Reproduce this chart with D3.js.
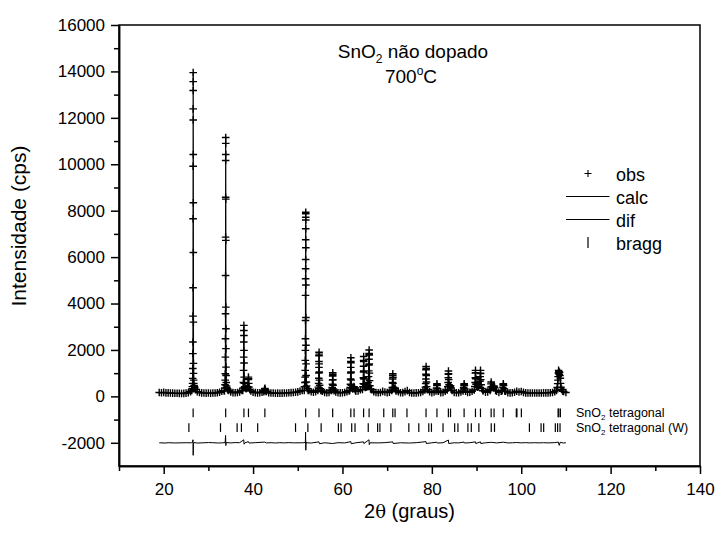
<!DOCTYPE html>
<html>
<head>
<meta charset="utf-8">
<script src="https://cdn.jsdelivr.net/npm/d3@7"></script>
<style>
  body { margin: 0; background: #fff; }
  svg text { font-family: "Liberation Sans", Arial, sans-serif; fill: #000; }
</style>
</head>
<body>
<div id="viewportContainer"></div>
<script>
/* --- ビューポート --- */
const viewport = { width: 715, height: 533 };
const plot = { left: 119, right: 700, top: 25, bottom: 466 };

/* --- 軸 --- */
const xDomain = [10, 140];
const yDomain = [-3000, 16000];
const xTicks = [20, 40, 60, 80, 100, 120, 140];
const xMinorTicks = [10, 30, 50, 70, 90, 110, 130];
const yTicks = [-2000, 0, 2000, 4000, 6000, 8000, 10000, 12000, 14000, 16000];
const yMinorTicks = [-1000, 1000, 3000, 5000, 7000, 9000, 11000, 13000, 15000];

/* --- obs: バックグラウンド (19.0度から0.5度刻み) --- */
const obsStart = 19.0;
const obsStep = 0.5;
const obsBackground = [
  165, 158, 170, 152, 150, 142, 140, 135, 132, 128,
  125, 130, 138, 155, 200, 420, 290, 205, 168, 150,
  145, 138, 142, 136, 144, 148, 158, 178, 218, 240,
  600, 250, 190, 162, 158, 165, 188, 250, 520, 330,
  600, 230, 180, 160, 152, 155, 176, 290, 210, 158,
  148, 142, 136, 140, 135, 138, 142, 148, 155, 162,
  168, 178, 192, 228, 250, 450, 900, 260, 198, 178,
  196, 250, 500, 228, 168, 158, 172, 250, 560, 190,
  158, 152, 156, 168, 196, 230, 600, 330, 218, 236,
  286, 420, 520, 420, 600, 290, 198, 168, 158, 168,
  215, 188, 162, 176, 266, 500, 230, 198, 158, 162,
  206, 248, 168, 148, 145, 152, 158, 168, 208, 390,
  288, 198, 162, 188, 336, 228, 162, 172, 226, 410,
  440, 248, 172, 158, 158, 188, 306, 248, 172, 178,
  218, 400, 440, 390, 800, 248, 178, 188, 306, 390,
  370, 228, 172, 218, 390, 218, 162, 152, 158, 178,
  218, 188, 208, 172, 152, 148, 145, 142, 148, 145,
  142, 148, 152, 150, 152, 158, 168, 202, 288, 700,
  300, 208, 168
];

/* --- obs: ピーク部分 [2θ, I] --- */
const obsPeaks = [
  // (110)
  [[26.30, 260], [26.36, 330], [26.42, 420], [26.46, 560], [26.49, 775], [26.51, 1200],
   [26.53, 1840], [26.545, 2340], [26.555, 3457], [26.565, 4680], [26.575, 7650],
   [26.585, 9915], [26.59, 12385], [26.595, 13560], [26.60, 13950], [26.605, 13175],
   [26.61, 11910], [26.62, 10420], [26.63, 8340], [26.64, 6200], [26.65, 3200],
   [26.665, 1420], [26.68, 990], [26.70, 700], [26.74, 560], [26.80, 470], [26.88, 420],
   [26.96, 360], [27.10, 290]],
  // (101)
  [[33.60, 230], [33.66, 360], [33.72, 500], [33.76, 700], [33.79, 975], [33.81, 1690],
   [33.825, 2485], [33.835, 3560], [33.845, 5210], [33.855, 6860], [33.862, 8580],
   [33.868, 10160], [33.873, 10900], [33.878, 11150], [33.883, 10420], [33.89, 8500],
   [33.90, 6720], [33.91, 3845], [33.92, 2915], [33.93, 2055], [33.945, 1260], [33.96, 900],
   [34.00, 600], [34.06, 450], [34.14, 380], [34.24, 320], [34.40, 270]],
  // (200) (111)
  [[37.70, 260], [37.78, 360], [37.84, 600], [37.88, 1120], [37.905, 1690], [37.92, 2340],
   [37.935, 2840], [37.945, 3060], [37.955, 2625], [37.965, 1980], [37.98, 1435],
   [38.00, 830], [38.05, 560], [38.12, 420], [38.25, 360], [38.45, 330], [38.65, 360],
   [38.80, 420], [38.88, 560], [38.93, 720], [38.96, 830], [38.99, 760], [39.03, 560],
   [39.10, 400], [39.25, 300]],
  // (210)
  [[42.40, 200], [42.52, 260], [42.60, 330], [42.66, 345], [42.74, 280], [42.88, 210]],
  // (211)
  [[51.45, 250], [51.53, 420], [51.60, 600], [51.64, 830], [51.67, 1120], [51.69, 1550],
   [51.705, 1980], [51.72, 2485], [51.73, 3270], [51.74, 4350], [51.75, 5070],
   [51.757, 5500], [51.763, 5900], [51.768, 6745], [51.773, 7220], [51.777, 7720],
   [51.782, 7865], [51.787, 7935], [51.793, 7600], [51.80, 6400], [51.81, 4800],
   [51.82, 3400], [51.835, 2200], [51.85, 1400], [51.87, 900], [51.91, 620], [51.98, 450],
   [52.10, 340], [52.30, 260]],
  // (220)
  [[54.50, 260], [54.60, 400], [54.66, 560], [54.70, 780], [54.72, 1000], [54.735, 1250],
   [54.745, 1500], [54.755, 1750], [54.765, 1900], [54.775, 1820], [54.79, 1400],
   [54.81, 1050], [54.84, 700], [54.90, 480], [55.00, 330], [55.15, 250]],
  // (002)
  [[57.60, 250], [57.70, 380], [57.76, 520], [57.79, 700], [57.81, 880], [57.825, 1020],
   [57.84, 940], [57.86, 720], [57.90, 480], [57.98, 320], [58.10, 240]],
  // (310) (221)
  [[61.62, 260], [61.72, 380], [61.78, 520], [61.82, 750], [61.845, 1000], [61.86, 1250],
   [61.875, 1500], [61.885, 1665], [61.90, 1450], [61.92, 1050], [61.95, 700], [62.00, 480],
   [62.10, 360], [62.30, 320], [62.48, 350], [62.58, 420], [62.66, 380], [62.80, 290]],
  // (112) (301)
  [[64.48, 300], [64.58, 420], [64.65, 550], [64.69, 800], [64.71, 1050], [64.725, 1300],
   [64.735, 1550], [64.745, 1720], [64.76, 1500], [64.78, 1100], [64.81, 750], [64.86, 520],
   [64.95, 420], [65.10, 380], [65.30, 390], [65.50, 420], [65.66, 480], [65.76, 600],
   [65.84, 850], [65.89, 1100], [65.92, 1350], [65.94, 1600], [65.955, 1850], [65.965, 2000],
   [65.98, 1780], [66.00, 1400], [66.03, 1000], [66.07, 680], [66.14, 460], [66.28, 320]],
  // (202) (320)
  [[71.05, 250], [71.15, 380], [71.20, 600], [71.235, 750], [71.255, 900], [71.27, 975],
   [71.29, 820], [71.32, 560], [71.40, 400], [71.55, 330], [71.72, 350], [71.80, 360],
   [71.95, 260]],
  // (321)
  [[78.45, 280], [78.56, 400], [78.63, 550], [78.67, 750], [78.69, 950], [78.70, 1150],
   [78.71, 1290], [78.725, 1200], [78.75, 900], [78.79, 620], [78.86, 420], [78.98, 300]],
  // (400)
  [[80.95, 230], [81.06, 360], [81.11, 470], [81.14, 545], [81.18, 480], [81.26, 330],
   [81.40, 230]],
  // (222) (410)
  [[83.45, 280], [83.58, 420], [83.65, 600], [83.68, 800], [83.70, 950], [83.715, 1090],
   [83.735, 980], [83.77, 720], [83.84, 500], [83.95, 430], [84.08, 420], [84.18, 460],
   [84.30, 360], [84.50, 250]],
  // (330)
  [[87.00, 230], [87.12, 380], [87.19, 490], [87.23, 545], [87.28, 470], [87.38, 320],
   [87.55, 220]],
  // (312) (411)
  [[89.50, 280], [89.62, 430], [89.69, 600], [89.73, 800], [89.75, 1000], [89.765, 1120],
   [89.785, 1020], [89.82, 760], [89.90, 520], [90.05, 420], [90.25, 400], [90.45, 420],
   [90.65, 500], [90.76, 650], [90.83, 850], [90.865, 1000], [90.885, 1120], [90.91, 980],
   [90.95, 720], [91.03, 500], [91.18, 340], [91.40, 240]],
  // (420) (331)
  [[93.05, 250], [93.16, 400], [93.23, 540], [93.27, 620], [93.32, 540], [93.42, 420],
   [93.60, 380], [93.80, 420], [93.92, 450], [94.05, 380], [94.25, 260]],
  // (103)
  [[95.75, 240], [95.88, 400], [95.95, 510], [95.99, 545], [96.04, 480], [96.14, 330],
   [96.30, 230]],
  // (402) (213) (430)
  [[107.90, 260], [108.05, 380], [108.15, 550], [108.22, 700], [108.26, 850], [108.30, 1000],
   [108.36, 1120], [108.42, 1060], [108.50, 950], [108.58, 1040], [108.66, 900],
   [108.74, 780], [108.80, 560], [108.90, 400], [109.05, 300], [109.30, 220]]
];

/* --- dif (obs - calc, -2000 にオフセット) --- */
const difPoints = [
  [19.0, -2000], [20.5, -2010], [21.0, -1995], [22.5, -2008], [23.0, -2005], [25.0, -1998],
  [26.2, -2000], [26.45, -1980], [26.55, -1870], [26.6, -2540], [26.65, -2080],
  [26.72, -1990], [27.5, -2010], [29.0, -2000], [30.0, -1990], [31.0, -1995], [32.0, -2008],
  [33.0, -2005], [33.75, -1990], [33.85, -1680], [33.9, -2120], [33.98, -1990],
  [35.0, -2005], [36.0, -1992], [37.0, -1995], [37.92, -1870], [37.98, -2060], [38.2, -2000],
  [38.95, -1950], [39.1, -2010], [40.5, -1995], [42.6, -1970], [43.0, -2005], [44.0, -1995],
  [45.0, -2008], [46.0, -1995], [47.0, -2005], [48.0, -1992], [49.0, -2003], [51.0, -2000],
  [51.7, -1990], [51.75, -1540], [51.8, -2320], [51.86, -1960], [52.0, -2000], [53.0, -2010],
  [54.75, -1960], [54.85, -2040], [56.0, -2000], [57.8, -2030], [59.0, -1995], [60.5, -2006],
  [61.88, -1950], [61.95, -2040], [63.0, -2000], [64.7, -1960], [64.8, -2030],
  [65.94, -1870], [66.0, -2080], [66.2, -2000], [68.0, -2005], [69.5, -1994], [71.27, -1960],
  [71.35, -2030], [73.0, -2000], [75.0, -2010], [76.5, -1996], [78.7, -1950], [78.76, -2030],
  [80.0, -2002], [81.1, -1975], [81.2, -2010], [82.5, -1998], [83.7, -1880], [83.78, -2030],
  [85.0, -2000], [86.0, -2005], [87.2, -1970], [87.3, -2010], [88.5, -1996], [89.76, -1960],
  [89.83, -2030], [90.9, -1960], [90.95, -2030], [92.0, -2000], [93.3, -1980], [94.5, -2005],
  [96.0, -1975], [97.0, -2006], [98.0, -2000], [99.0, -1990], [100.0, -2003], [101.0, -1994],
  [102.0, -2005], [103.0, -1996], [104.0, -2004], [105.0, -1995], [106.0, -2005],
  [107.5, -1994], [108.3, -1970], [108.5, -2110], [108.7, -1980], [109.4, -2008],
  [110.0, -2000]
];

/* --- bragg 位置 (2θ) --- */
const braggSnO2 = [
  26.59, 33.87, 37.95, 38.97, 42.64, 51.77, 54.75, 57.81, 61.87, 62.60, 64.73, 65.96,
  69.24, 71.26, 71.77, 74.43, 78.70, 81.14, 83.70, 84.18, 87.22, 89.76, 90.88, 93.27,
  93.92, 95.98, 98.90, 99.04, 100.03, 108.25, 108.40, 108.76
];
const braggSnO2W = [
  25.64, 32.71, 36.43, 37.39, 41.03, 49.50, 52.26, 55.23, 59.09, 59.69, 62.07, 62.81,
  65.77, 67.87, 68.38, 70.84, 74.85, 77.08, 79.31, 79.91, 82.50, 85.11, 85.84, 88.07,
  88.83, 90.52, 93.29, 94.02, 101.83, 104.44, 105.02, 107.63, 108.14, 108.68
];
const braggRows = [
  { name: "SnO", sub: "2", rest: " tetragonal", offset: -710, pos: braggSnO2 },
  { name: "SnO", sub: "2", rest: " tetragonal (W)", offset: -1345, pos: braggSnO2W }
];

const legendItems = ["obs", "calc", "dif", "bragg"];

let drawChart = function () {
  console.log("drawChart");

  /*--- SVG作成 ---*/
  const svg = d3
    .select("#viewportContainer")
    .append("svg")
    .attr("width", viewport.width)
    .attr("height", viewport.height)
    .attr("viewBox", "0 0 " + viewport.width + " " + viewport.height);

  svg.append("rect")
    .attr("width", viewport.width)
    .attr("height", viewport.height)
    .attr("fill", "#fff");

  const x = d3.scaleLinear().domain(xDomain).range([plot.left, plot.right]);
  const y = d3.scaleLinear().domain(yDomain).range([plot.bottom, plot.top]);

  /*--- obs データを結合 ---*/
  const peakRanges = obsPeaks.map((p) => [p[0][0], p[p.length - 1][0]]);
  const bgPoints = obsBackground
    .map((v, i) => [obsStart + i * obsStep, v])
    .filter((d) => !peakRanges.some((r) => d[0] >= r[0] && d[0] <= r[1]));
  const obsAll = d3.sort(bgPoints.concat(...obsPeaks), (d) => d[0]);

  const chart = svg.append("g").attr("id", "chartContainer");

  // obs (+)
  chart.append("path")
    .attr("fill", "none")
    .attr("stroke", "#000")
    .attr("stroke-width", 1.4)
    .attr("d", obsAll.map((d) => {
      const px = x(d[0]), py = y(d[1]);
      return "M" + (px - 3.8) + "," + py + "h7.6M" + px + "," + (py - 3.8) + "v7.6";
    }).join(""));

  // calc
  const line = d3.line().x((d) => x(d[0])).y((d) => y(d[1]));
  chart.append("path")
    .datum(obsAll)
    .attr("fill", "none")
    .attr("stroke", "#000")
    .attr("stroke-width", 1.2)
    .attr("d", line);

  // dif
  chart.append("path")
    .datum(difPoints)
    .attr("fill", "none")
    .attr("stroke", "#000")
    .attr("stroke-width", 1)
    .attr("d", line);

  // bragg
  braggRows.forEach((row) => {
    chart.append("g")
      .selectAll("line")
      .data(row.pos)
      .enter()
      .append("line")
      .attr("x1", (d) => x(d))
      .attr("x2", (d) => x(d))
      .attr("y1", y(row.offset) - 4.3)
      .attr("y2", y(row.offset) + 4.3)
      .attr("stroke", "#000")
      .attr("stroke-width", 1.2);
  });

  // bragg ラベル
  braggRows.forEach((row) => {
    const t = chart.append("text")
      .attr("x", 576)
      .attr("y", y(row.offset) + 4.5)
      .attr("font-size", "12.5px")
      .text(row.name);
    t.append("tspan").attr("font-size", "8px").attr("dy", 3).text(row.sub);
    t.append("tspan").attr("dy", -3).text(row.rest);
  });

  /*--- 軸 ---*/
  const axisStyle = function (g) {
    g.selectAll("line").attr("stroke", "#000").attr("stroke-width", 1.5);
    g.selectAll("path").attr("stroke", "#000").attr("stroke-width", 1.5);
    g.selectAll("text").attr("font-size", "17px").attr("fill", "#000");
  };

  svg.append("g")
    .attr("transform", "translate(" + plot.left + ",0)")
    .call(d3.axisLeft(y).tickValues(yMinorTicks).tickSize(5).tickSizeOuter(0).tickFormat(""))
    .call(axisStyle);
  svg.append("g")
    .attr("transform", "translate(" + plot.left + ",0)")
    .call(d3.axisLeft(y).tickValues(yTicks).tickSize(8).tickSizeOuter(0).tickPadding(6)
      .tickFormat((d) => String(d)))
    .call(axisStyle);

  svg.append("g")
    .attr("transform", "translate(0," + plot.bottom + ")")
    .call(d3.axisBottom(x).tickValues(xMinorTicks).tickSize(5).tickSizeOuter(0).tickFormat(""))
    .call(axisStyle);
  svg.append("g")
    .attr("transform", "translate(0," + plot.bottom + ")")
    .call(d3.axisBottom(x).tickValues(xTicks).tickSize(8).tickSizeOuter(0).tickPadding(9)
      .tickFormat((d) => String(d)))
    .call(axisStyle);

  // 枠
  svg.append("rect")
    .attr("x", plot.left)
    .attr("y", plot.top)
    .attr("width", plot.right - plot.left)
    .attr("height", plot.bottom - plot.top)
    .attr("fill", "none")
    .attr("stroke", "#000")
    .attr("stroke-width", 1.5);

  /*--- 軸ラベル ---*/
  svg.append("text")
    .attr("transform", "translate(26,226) rotate(-90)")
    .attr("text-anchor", "middle")
    .attr("font-size", "21px")
    .text("Intensidade (cps)");

  const xl = svg.append("text")
    .attr("x", (plot.left + plot.right) / 2)
    .attr("y", 518)
    .attr("text-anchor", "middle")
    .attr("font-size", "20px");
  xl.append("tspan").text("2");
  xl.append("tspan").style("font-family", "'DejaVu Serif', serif").attr("font-size", "18px").text("θ");
  xl.append("tspan").text(" (graus)");

  /*--- タイトル ---*/
  const t1 = svg.append("text")
    .attr("x", 413)
    .attr("y", 58)
    .attr("text-anchor", "middle")
    .attr("font-size", "19px");
  t1.append("tspan").text("SnO");
  t1.append("tspan").attr("font-size", "12px").attr("dy", 5).text("2");
  t1.append("tspan").attr("dy", -5).text(" não dopado");

  const t2 = svg.append("text")
    .attr("x", 411)
    .attr("y", 83)
    .attr("text-anchor", "middle")
    .attr("font-size", "19px");
  t2.append("tspan").text("700");
  t2.append("tspan").attr("font-size", "12px").attr("dy", -8).text("o");
  t2.append("tspan").attr("dy", 8).text("C");

  /*--- 凡例 ---*/
  const legend = svg.append("g").attr("id", "legendContainer");
  legendItems.forEach((name, i) => {
    const by = 180.5 + i * 23;
    const cy = by - 7;
    if (name === "obs") {
      legend.append("path")
        .attr("d", "M584.5," + cy + "h7M588," + (cy - 3.5) + "v7")
        .attr("stroke", "#000").attr("stroke-width", 1.1);
    } else if (name === "bragg") {
      legend.append("line")
        .attr("x1", 588).attr("x2", 588)
        .attr("y1", cy - 5.5).attr("y2", cy + 5.5)
        .attr("stroke", "#000").attr("stroke-width", 1.2);
    } else {
      legend.append("line")
        .attr("x1", 566).attr("x2", 609.5)
        .attr("y1", cy).attr("y2", cy)
        .attr("stroke", "#000").attr("stroke-width", 1);
    }
    legend.append("text")
      .attr("x", 616)
      .attr("y", by)
      .attr("font-size", "18px")
      .text(name);
  });
};

drawChart();
</script>
</body>
</html>
